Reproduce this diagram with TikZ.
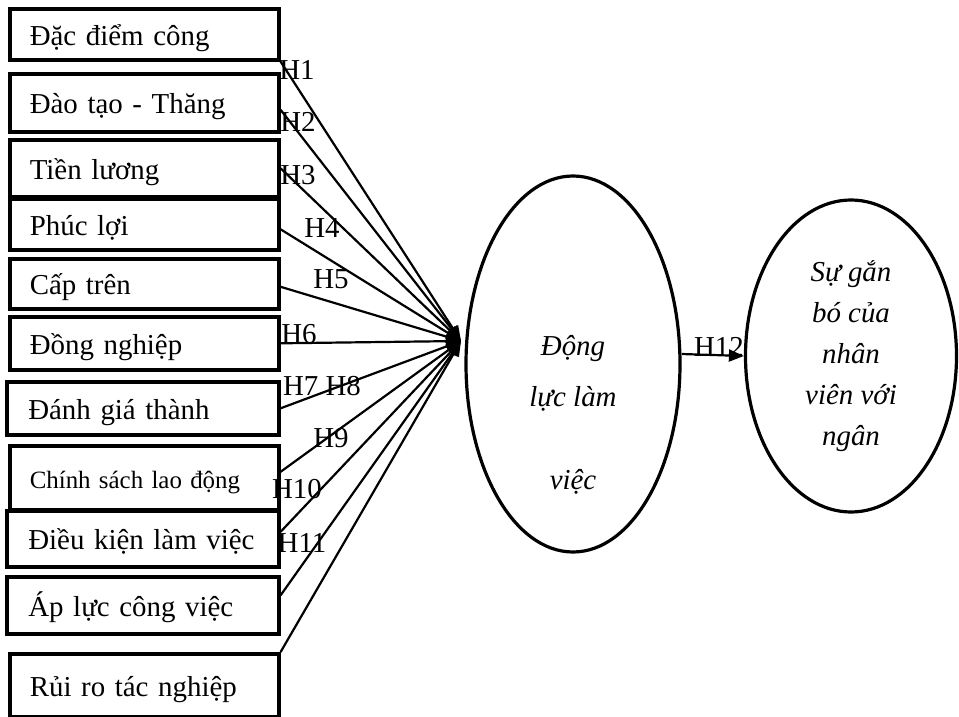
\documentclass[tikz,border=0pt]{standalone}
\usepackage{fontspec}
\setmainfont{Liberation Serif}
\usepackage{tikz}
\usetikzlibrary{arrows.meta,shapes.geometric}

\tikzset{
    factor/.style={draw,line width=3.6bp,anchor=north west,inner xsep=0pt,inner ysep=0pt,
        text width=229bp,align=left,text height=24bp,text depth=2bp},
    latent/.style={draw,ellipse,line width=3.2bp,inner sep=0pt},
    hyp/.style={inner sep=0pt,font=\fontsize{29}{34}\selectfont},
    link/.style={line width=2.2bp,-{Triangle[length=15bp,width=12bp]}}
}

\begin{document}
\begin{tikzpicture}[x=1bp,y=-1bp]
    \useasboundingbox (0,0) rectangle (959,717);

    % Hypothesis labels
    \foreach \n/\x/\y/\t in {1/297/70/H1,2/298/122/H2,3/298/175/H3,4/322/228/H4,
        5/331/279/H5,6/299/334/H6,7/322/386/H7 H8,9/331/438/H9,
        10/297/489/H10,11/302/543/H11} {
        \node[hyp] (h\n) at (\x,\y) {\t};
    }

    % Factors
    \foreach \i/\x/\y/\h/\fs/\t in {
        1/8/7/51/29/{Đặc điểm công},
        2/8/72/58/29/{Đào tạo - Thăng},
        3/8/138/57/29/{Tiền lương},
        4/8/197/51/29/{Phúc lợi},
        5/8/257/50/29/{Cấp trên},
        6/8/315/53/29/{Đồng nghiệp},
        7/5/380/53/29/{Đánh giá thành},
        8/8/444/64/25/{Chính sách lao động},
        9/5/509/56/29/{Điều kiện làm việc},
        10/5/575/57/29/{Áp lực công việc},
        11/8/652/63/29/{Rủi ro tác nghiệp}} {
        \pgfmathsetmacro{\w}{277-\x}
        \node[factor,minimum width=\w bp,minimum height=\h bp,
            font=\fontsize{\fs}{34}\selectfont] (f\i) at (\x,\y) {\t};
    }

    % Motivation and commitment
    \node[latent,minimum width=214bp,minimum height=376bp,
        text height=24bp,text depth=42bp,
        font=\fontsize{29}{52}\selectfont\itshape] (DL) at (573,364)
        {\begin{tabular}[t]{c}Động\\lực làm\\[31bp]việc\end{tabular}};
    \node[latent,minimum width=211bp,minimum height=312bp,align=center,
        font=\fontsize{29}{41}\selectfont\itshape] (GB) at (851,356)
        {Sự gắn\\bó của\\nhân\\viên với\\ngân};

    % Arrows
    \coordinate (hub) at (461,341);
    \foreach \i/\a/\d in {1/south east/0,2/east/-7,3/east/0,4/east/-5,
        5/east/-3,6/east/0,7/east/0,8/east/6,9/east/7,10/east/10,
        11/north east/0} {
        \draw[link] ([yshift=\d bp]f\i.\a) -- (hub);
    }
    \draw[link] ([yshift=10bp]DL.east) -- (GB.west)
        node[hyp,pos=0.6,above=-2bp] (h12) {H12};

\end{tikzpicture}
\end{document}
